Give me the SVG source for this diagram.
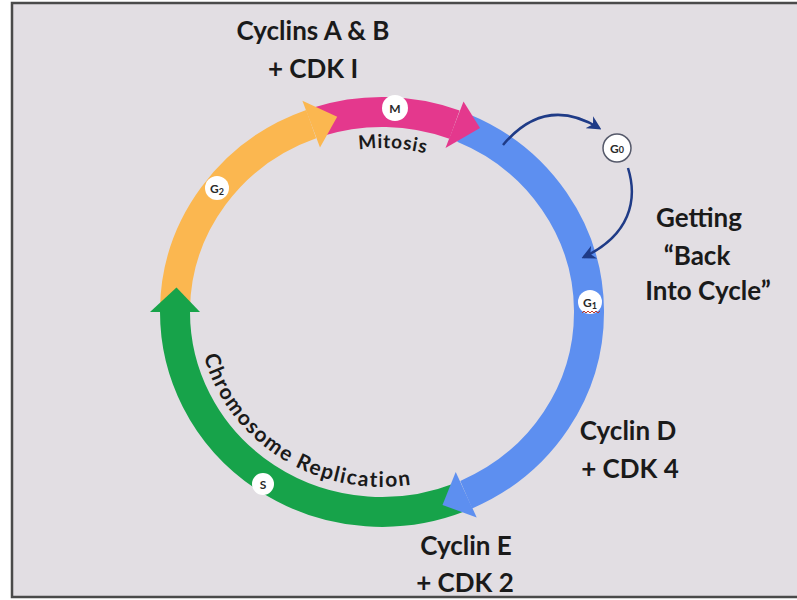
<svg xmlns="http://www.w3.org/2000/svg" width="797" height="600" viewBox="0 0 797 600">
<style>
.lbl{font-family:Lato,"Liberation Sans",sans-serif;font-weight:bold;font-size:26px;fill:#1a1a1a;text-anchor:middle}
.arc{font-family:Lato,"Liberation Sans",sans-serif;font-weight:bold;fill:#1a1a1a}
.band{fill:none;stroke-width:30;stroke-linecap:butt}
.tag{fill:#ffffff}
.tagt{font-family:Lato,"Liberation Sans",sans-serif;font-weight:bold;font-size:12px;fill:#2a2a2a;text-anchor:middle}
.sub{font-size:9px}
.nav{fill:none;stroke:#1f3b87;stroke-width:2.5;marker-end:url(#ah)}
</style>
<defs>
<marker id="ah" markerUnits="userSpaceOnUse" markerWidth="14" markerHeight="14" viewBox="0 0 10 10" refX="8" refY="5" orient="auto">
<path d="M0,0 L10,5 L0,10 L3,5 z" fill="#1f3b87"/>
</marker>
<path id="crPath" d="M 203.5 354.3 A 184 175 0 0 0 414.0 484.3"/>
<path id="miPath" d="M 297 169.7 A 170 162 0 0 1 467 169.7"/>
</defs>
<rect x="0" y="0" width="797" height="600" fill="#ffffff"/>
<rect x="12" y="3" width="800" height="594" fill="#e2dee3" stroke="#4a4a4a" stroke-width="2.5"/>

<g id="ring">
<path id="orange-band" class="band" stroke="#fbb750" d="M 175.0 308.5 A 207 200 0 0 1 311.2 124.1"/>
<path id="magenta-band" class="band" stroke="#e4388d" d="M 318.0 121.8 A 207 200 0 0 1 454.5 124.7"/>
<path id="blue-band" class="band" stroke="#5d8ff0" d="M 462.9 127.9 A 207 200 0 0 1 466.2 494.7"/>
<path id="green-band" class="band" stroke="#17a34a" d="M 459.5 497.4 A 207 200 0 0 1 175 312"/>
<polygon id="orange-head" fill="#fbb750" points="302.4,100.7 337.2,116.7 320.0,147.5"/>
<polygon id="magenta-head" fill="#e4388d" points="463.5,101.4 480,128 445.5,148.0"/>
<polygon id="blue-head" fill="#5d8ff0" points="476.7,517.4 442.5,505 455.7,472.0"/>
<polygon id="green-head" fill="#17a34a" points="150,312 176.5,287.6 200,312"/>
</g>

<g id="connectors">
<path d="M 503 145 Q 545 95 599 128" class="nav"/>
<path d="M 628 168 C 638 200 630 235 584 257" class="nav"/>
</g>

<g id="node-M">
<circle class="tag" cx="395" cy="108" r="13"/>
<text class="tagt" x="395" y="112.5">M</text>
</g>
<g id="node-G2">
<circle class="tag" cx="217" cy="188" r="12"/>
<text class="tagt" x="217" y="192.5">G<tspan class="sub" dy="2">2</tspan></text>
</g>
<g id="node-G0">
<circle class="tag" cx="617" cy="148" r="14" stroke="#55596a" stroke-width="1.5"/>
<text class="tagt" x="617" y="152.5" font-size="13">G<tspan class="sub" font-size="11">0</tspan></text>
</g>
<g id="node-G1">
<circle class="tag" cx="590" cy="302" r="12"/>
<text class="tagt" x="590" y="306.5">G<tspan class="sub" dy="2">1</tspan></text>
<path d="M 582 313 l 2 -2 l 2 2 l 2 -2 l 2 2 l 2 -2 l 2 2 l 2 -2 l 2 2 l 2 -2" fill="none" stroke="#c0392b" stroke-width="1"/>
</g>
<g id="node-S">
<circle class="tag" cx="263" cy="484" r="11"/>
<text class="tagt" x="263" y="488.5">S</text>
</g>

<g id="label-mitosis">
<text class="arc" font-size="19" letter-spacing="0.8"><textPath href="#miPath" startOffset="56%" text-anchor="middle">Mitosis</textPath></text>
</g>
<g id="label-replication">
<text class="arc" font-size="21" letter-spacing="1.5"><textPath href="#crPath" startOffset="50%" text-anchor="middle">Chromosome Replication</textPath></text>
</g>

<g id="label-AB">
<text class="lbl" x="313" y="40">Cyclins A &amp; B</text>
<text class="lbl" x="313" y="78">+ CDK I</text>
</g>
<g id="label-back">
<text class="lbl" x="699" y="227">Getting</text>
<text class="lbl" x="697" y="265">“Back</text>
<text class="lbl" x="708" y="300">Into Cycle”</text>
</g>
<g id="label-D">
<text class="lbl" x="628" y="440">Cyclin D</text>
<text class="lbl" x="630" y="478">+ CDK 4</text>
</g>
<g id="label-E">
<text class="lbl" x="466" y="555">Cyclin E</text>
<text class="lbl" x="465" y="592">+ CDK 2</text>
</g>
</svg>
